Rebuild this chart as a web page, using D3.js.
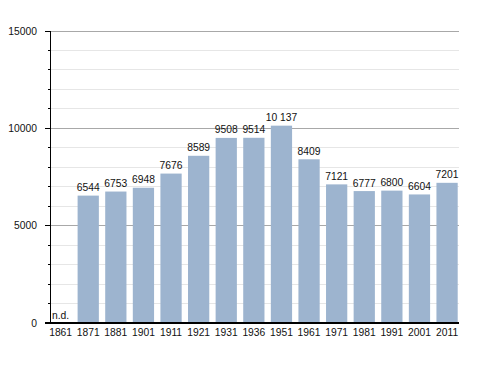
<!DOCTYPE html>
<html>
<head>
<meta charset="utf-8">
<script src="https://cdn.jsdelivr.net/npm/d3@7"></script>
<style>
  html, body { margin: 0; padding: 0; background: #fff; }
  svg text { font-family: "Liberation Sans", Arial, Helvetica, sans-serif; }
</style>
</head>
<body>
<svg id="chart" width="488" height="373"></svg>
<script>
const years = ["1861","1871","1881","1901","1911","1921","1931","1936","1951","1961","1971","1981","1991","2001","2011"];
const population = [null,6544,6753,6948,7676,8589,9508,9514,10137,8409,7121,6777,6800,6604,7201];
const majorTicks = [0,5000,10000,15000];
const minorTicks = [1000,2000,3000,4000,6000,7000,8000,9000,11000,12000,13000,14000];
const missingLabel = "n.d.";

(function () {
const svg = d3.select("#chart");
const mLeft = 50, mRight = 459, mTop = 31, mBottom = 323;

const x = d3.scaleBand().domain(years).range([mLeft, 457.7]).paddingInner(0.23).paddingOuter(0).align(0);
const y = d3.scaleLinear().domain([0, 15000]).range([mBottom, mTop]);

const fmt = v => v >= 10000 ? d3.format(",")(v).replace(/,/g, " ") : String(v);

// minor gridlines
svg.append("g").selectAll("line").data(minorTicks).join("line")
  .attr("x1", mLeft).attr("x2", mRight)
  .attr("y1", d => y(d)).attr("y2", d => y(d))
  .attr("stroke", "#e6e6e6").attr("stroke-width", 1).attr("shape-rendering", "crispEdges");
// major gridlines
svg.append("g").selectAll("line").data(majorTicks.filter(d => d > 0)).join("line")
  .attr("x1", mLeft).attr("x2", mRight)
  .attr("y1", d => y(d)).attr("y2", d => y(d))
  .attr("stroke", "#a8a8a8").attr("stroke-width", 1).attr("shape-rendering", "crispEdges");

// bars
const data = years.map((yr, i) => ({year: yr, value: population[i]}));
svg.append("g").selectAll("rect").data(data.filter(d => d.value != null)).join("rect")
  .attr("x", d => x(d.year)).attr("width", x.bandwidth())
  .attr("y", d => y(d.value)).attr("height", d => mBottom - y(d.value))
  .attr("fill", "#9db4cf");

// value labels
svg.append("g").selectAll("text").data(data.filter(d => d.value != null)).join("text")
  .attr("x", d => x(d.year) + x.bandwidth() / 2)
  .attr("y", d => y(d.value) - 4.5)
  .attr("text-anchor", "middle").attr("font-size", "10.3px").attr("fill", "#111")
  .text(d => fmt(d.value));

// n.d.
data.filter(d => d.value == null).forEach(d => {
  svg.append("text").attr("x", x(d.year) + 2).attr("y", mBottom - 4)
    .attr("font-size", "10.3px").attr("fill", "#111").text(missingLabel);
});

// y axis
const yAxis = svg.append("g").attr("transform", `translate(${mLeft},0)`);
yAxis.append("line").attr("x1", 0).attr("x2", 0).attr("y1", mTop).attr("y2", mBottom)
  .attr("stroke", "#000").attr("shape-rendering", "crispEdges");
yAxis.selectAll(".major").data(majorTicks).join("line").attr("class", "major")
  .attr("x1", -5).attr("x2", 0).attr("y1", d => y(d)).attr("y2", d => y(d))
  .attr("stroke", "#000").attr("shape-rendering", "crispEdges");
yAxis.selectAll(".minor").data(minorTicks).join("line").attr("class", "minor")
  .attr("x1", -2).attr("x2", 0).attr("y1", d => y(d)).attr("y2", d => y(d))
  .attr("stroke", "#000").attr("shape-rendering", "crispEdges");
yAxis.selectAll("text").data(majorTicks).join("text")
  .attr("x", -13).attr("y", d => y(d)).attr("dy", "0.35em")
  .attr("text-anchor", "end").attr("font-size", "10.3px").attr("fill", "#111")
  .text(d => d);

// x axis
const xAxis = svg.append("g");
xAxis.append("line").attr("x1", mLeft - 5).attr("x2", mRight).attr("y1", mBottom).attr("y2", mBottom)
  .attr("stroke", "#000").attr("stroke-width", 1.2).attr("shape-rendering", "crispEdges");
xAxis.selectAll("text").data(years).join("text")
  .attr("x", d => x(d) + x.bandwidth() / 2).attr("y", mBottom + 12.5)
  .attr("text-anchor", "middle").attr("font-size", "10.3px").attr("fill", "#111")
  .text(d => d);
})();
</script>
</body>
</html>
